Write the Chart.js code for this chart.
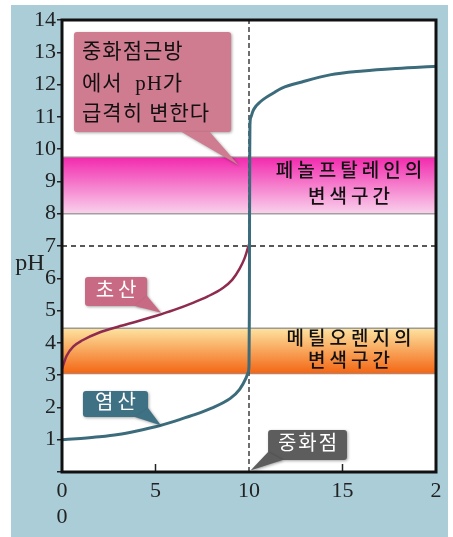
<!DOCTYPE html>
<html>
<head>
<meta charset="utf-8">
<script src="https://cdn.jsdelivr.net/npm/chart.js@4"></script>
<style>
  body { margin: 0; background: #fff; }
  #wrap { width: 453px; height: 537px; }
</style>
</head>
<body>
<div id="wrap"><canvas id="titration"></canvas></div>
<script>
// --- data ---
// 염산 (HCl) titration curve
const hclX = [0, 1, 2, 3, 4, 5, 6, 7, 8, 9, 9.5, 9.85, 9.95, 10.0, 10.02, 10.03, 10.04, 10.05, 10.1, 10.21, 10.37, 10.59, 10.86, 11.28, 11.76, 12.83, 14.33, 16.1, 17.9, 20];
const hclY = [1.0, 1.04, 1.09, 1.16, 1.27, 1.4, 1.57, 1.76, 1.98, 2.28, 2.56, 2.92, 3.08, 3.3, 5.0, 8.0, 10.0, 10.74, 10.99, 11.18, 11.33, 11.46, 11.58, 11.73, 11.89, 12.08, 12.3, 12.42, 12.5, 12.57];
// 초산 (acetic acid) titration curve
const acidX = [0, 0.25, 0.6, 1.1, 2, 3, 4, 5, 6, 7, 7.8, 8.6, 9.1, 9.5, 9.75, 9.92, 10];
const acidY = [3.2, 3.6, 3.88, 4.08, 4.32, 4.5, 4.66, 4.83, 5.02, 5.24, 5.44, 5.7, 5.95, 6.3, 6.6, 6.9, 7.05];

// indicator colour-change ranges [low, high] in pH
const phenolRange = [8.0, 9.75];
const methylRange = [3.05, 4.45];

const equivalenceX = 10;  // 중화점
const neutralPH = 7;

const xTickLabels = [["0", "0"], "5", "10", "15", "2"];
const yTickLabels = ["", "1", "2", "3", "4", "5", "6", "7", "8", "9", "10", "11", "12", "13", "14"];

const serif = "'Liberation Serif', 'Noto Sans CJK KR', serif";

// annotation callouts, in data units
const callouts = [
  { box: [0.64, 13.63, 9.04, 10.53], tail: [[6.4, 10.53], [7.9, 10.53], [9.45, 9.5]],
    fill: "#cf7b90", color: "#111", size: 21, spacing: 1, align: "left",
    lines: [[1.07, 12.98, "중화점근방"], [1.07, 11.99, "에서  pH가"], [1.07, 11.06, "급격히 변한다"]] },
  { box: [1.23, 6.04, 4.55, 5.14], tail: [[3.9, 5.14], [4.55, 5.45], [5.3, 4.93]],
    fill: "#c96a84", color: "#fff", size: 20, spacing: 4, align: "center",
    lines: [[2.89, 5.59, "초산"]] },
  { box: [1.12, 2.51, 4.6, 1.7], tail: [[3.9, 1.7], [4.6, 1.98], [5.3, 1.44]],
    fill: "#3f7184", color: "#fff", size: 20, spacing: 4, align: "center",
    lines: [[2.86, 2.1, "염산"]] },
  { box: [11.02, 1.3, 15.24, 0.37], tail: [[11.02, 0.62], [11.8, 0.37], [10.08, 0.05]],
    fill: "#5d5d5d", color: "#fff", size: 20, spacing: 2, align: "center",
    lines: [[13.13, 0.83, "중화점"]] },
];

const bandLabels = [
  { x: 15.35, lines: [[9.3, "페놀프탈레인의"], [8.49, "변색구간"]] },
  { x: 15.35, lines: [[4.1, "메틸오렌지의"], [3.4, "변색구간"]] },
];

function pts(xs, ys) {
  return xs.map((x, i) => ({ x: x, y: ys[i] }));
}

// --- plugins ---
const backdrop = {
  id: "backdrop",
  beforeDraw(chart) {
    const { ctx, chartArea: a } = chart;
    ctx.save();
    ctx.fillStyle = "#fff";
    ctx.fillRect(0, 0, chart.width, chart.height);
    ctx.fillStyle = "#aacdd8";
    ctx.fillRect(11, 5, 437, 532);
    ctx.fillStyle = "#fff";
    ctx.fillRect(a.left, a.top, a.right - a.left, a.bottom - a.top);
    ctx.restore();
  },
};

const bands = {
  id: "bands",
  beforeDatasetsDraw(chart) {
    const { ctx, chartArea: a, scales: { y } } = chart;
    const draw = (range, c0, c1, edgeTop, edgeBot) => {
      const top = y.getPixelForValue(range[1]);
      const bot = y.getPixelForValue(range[0]);
      const g = ctx.createLinearGradient(0, top, 0, bot);
      g.addColorStop(0, c0);
      g.addColorStop(1, c1);
      ctx.fillStyle = g;
      ctx.fillRect(a.left, top, a.right - a.left, bot - top);
      ctx.lineWidth = 1.5;
      ctx.strokeStyle = edgeTop;
      ctx.beginPath(); ctx.moveTo(a.left, top); ctx.lineTo(a.right, top); ctx.stroke();
      ctx.strokeStyle = edgeBot;
      ctx.beginPath(); ctx.moveTo(a.left, bot); ctx.lineTo(a.right, bot); ctx.stroke();
    };
    ctx.save();
    draw(phenolRange, "#f22aae", "#f9d2ec", "#b07a98", "#a0a0a0");
    draw(methylRange, "#fde3a0", "#f36614", "#9a9a9a", "#c08060");
    ctx.restore();
  },
};

const frame = {
  id: "frame",
  afterDatasetsDraw(chart) {
    const { ctx, chartArea: a, scales: { x, y } } = chart;
    ctx.save();
    // inward ticks on the x axis
    ctx.strokeStyle = "#222";
    ctx.lineWidth = 1.5;
    [5, 15].forEach((v) => {
      const px = x.getPixelForValue(v);
      ctx.beginPath(); ctx.moveTo(px, a.bottom); ctx.lineTo(px, a.bottom - 8); ctx.stroke();
    });
    ctx.strokeStyle = "#111";
    ctx.lineWidth = 3;
    ctx.strokeRect(a.left, a.top, a.right - a.left, a.bottom - a.top);
    // pH axis title
    ctx.fillStyle = "#222";
    ctx.font = "24px " + serif;
    ctx.textAlign = "center";
    ctx.textBaseline = "middle";
    ctx.fillText("pH", 30, 264);
    ctx.restore();
  },
};

const notes = {
  id: "notes",
  afterDraw(chart) {
    const { ctx, scales: { x, y } } = chart;
    ctx.save();
    ctx.textBaseline = "middle";

    bandLabels.forEach((b) => {
      ctx.fillStyle = "#111";
      ctx.font = "500 19px " + serif;
      ctx.letterSpacing = "4px";
      ctx.textAlign = "center";
      b.lines.forEach(([yy, t]) => ctx.fillText(t, x.getPixelForValue(b.x) + 2, y.getPixelForValue(yy)));
    });

    callouts.forEach((c) => {
      const x0 = x.getPixelForValue(c.box[0]), y0 = y.getPixelForValue(c.box[1]);
      const x1 = x.getPixelForValue(c.box[2]), y1 = y.getPixelForValue(c.box[3]);
      ctx.save();
      ctx.shadowColor = "rgba(0,0,0,0.35)";
      ctx.shadowBlur = 3;
      ctx.shadowOffsetX = 1;
      ctx.shadowOffsetY = 1;
      ctx.fillStyle = c.fill;
      ctx.beginPath();
      ctx.roundRect(x0, y0, x1 - x0, y1 - y0, 3);
      ctx.fill();
      ctx.beginPath();
      c.tail.forEach(([tx, ty], i) => {
        const px = x.getPixelForValue(tx), py = y.getPixelForValue(ty);
        if (i === 0) ctx.moveTo(px, py); else ctx.lineTo(px, py);
      });
      ctx.closePath();
      ctx.fill();
      ctx.restore();
      ctx.fillStyle = c.color;
      ctx.font = c.size + "px " + serif;
      ctx.letterSpacing = c.spacing + "px";
      ctx.textAlign = c.align;
      c.lines.forEach(([tx, ty, t]) => {
        const off = c.align === "center" ? c.spacing / 2 : 0;
        ctx.fillText(t, x.getPixelForValue(tx) + off, y.getPixelForValue(ty));
      });
    });
    ctx.restore();
  },
};

// --- chart ---
document.addEventListener("DOMContentLoaded", () => {
  const ctx = document.getElementById("titration").getContext("2d");
  new Chart(ctx, {
    type: "line",
    data: {
      datasets: [
        {
          label: "염산",
          data: pts(hclX, hclY),
          borderColor: "#3c6c7c",
          borderWidth: 3,
          pointRadius: 0,
          cubicInterpolationMode: "monotone",
          order: 1,
        },
        {
          label: "초산",
          data: pts(acidX, acidY),
          borderColor: "#8e2b4f",
          borderWidth: 2.5,
          pointRadius: 0,
          cubicInterpolationMode: "monotone",
          order: 1,
        },
        {
          label: "중화점",
          data: [{ x: equivalenceX, y: 0 }, { x: equivalenceX, y: 14 }],
          borderColor: "#222",
          borderWidth: 1.3,
          borderDash: [5, 3],
          pointRadius: 0,
          order: 2,
        },
        {
          label: "pH 7",
          data: [{ x: 0, y: neutralPH }, { x: 20, y: neutralPH }],
          borderColor: "#222",
          borderWidth: 1.3,
          borderDash: [5, 4],
          pointRadius: 0,
          order: 2,
        },
      ],
    },
    options: {
      responsive: true,
      maintainAspectRatio: false,
      animation: false,
      layout: { padding: { left: 0, top: 20, right: 17, bottom: 0 } },
      plugins: { legend: { display: false }, tooltip: { enabled: false } },
      scales: {
        x: {
          type: "linear",
          min: 0,
          max: 20,
          afterFit: (s) => { s.height = 65; },
          border: { display: false },
          grid: { display: false, drawTicks: false },
          ticks: {
            stepSize: 5,
            padding: 7,
            color: "#222",
            maxRotation: 0,
            font: { family: serif, size: 22, lineHeight: 1.15 },
            callback: (v, i) => xTickLabels[i],
          },
        },
        y: {
          type: "linear",
          min: 0,
          max: 14,
          afterFit: (s) => { s.width = 62; },
          border: { display: false },
          grid: { drawOnChartArea: false, drawTicks: true, tickLength: 5, color: "#222", lineWidth: 1.5 },
          ticks: {
            stepSize: 1,
            padding: 1,
            color: "#222",
            font: { family: serif, size: 22 },
            callback: (v, i) => yTickLabels[i],
          },
        },
      },
    },
    plugins: [backdrop, bands, frame, notes],
  });
});
</script>
</body>
</html>
